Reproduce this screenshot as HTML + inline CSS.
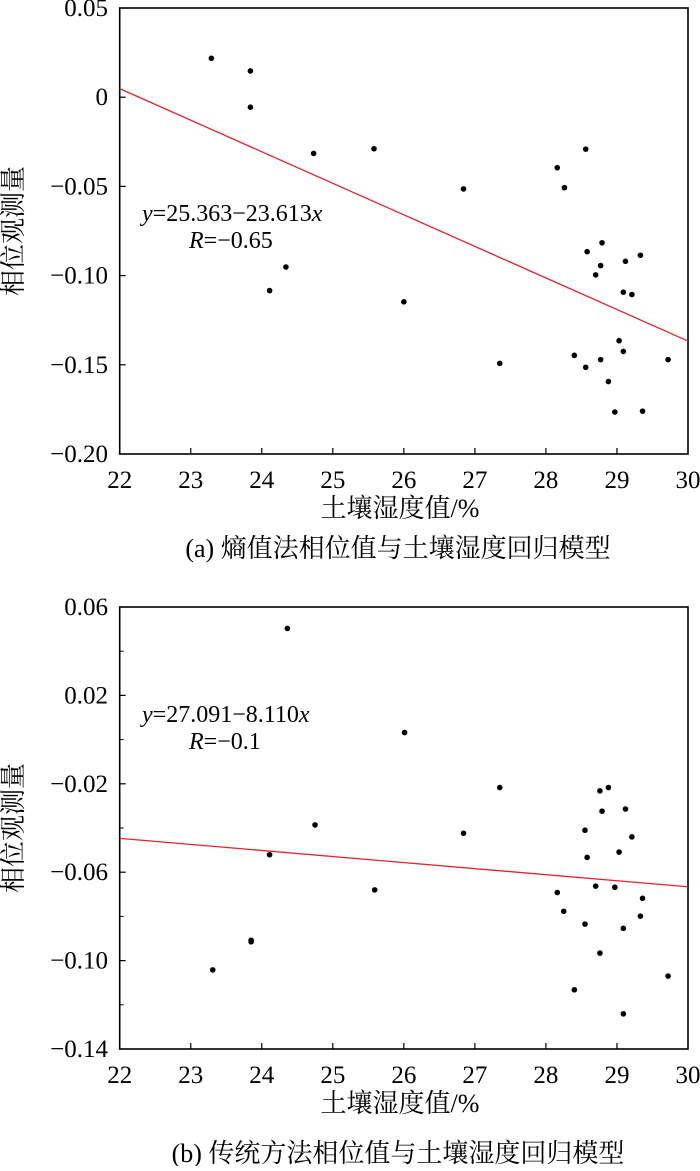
<!DOCTYPE html>
<html><head><meta charset="utf-8"><style>
html,body{margin:0;padding:0;background:#fff;}
body{width:700px;height:1166px;overflow:hidden;}
svg text{font-family:"Liberation Serif","Noto Serif CJK SC",serif !important;fill:#000;}
</style></head><body>
<svg id="chart" width="700" height="1166" viewBox="0 0 700 1166" font-family="'Liberation Serif','Noto Serif CJK SC',serif"></svg>
<script>
// Panel (a)
const xTicksA = [22,23,24,25,26,27,28,29,30];
const yTicksA = [0.05,0,-0.05,-0.10,-0.15,-0.20];
const yTickLabelsA = ["0.05","0","\u22120.05","\u22120.10","\u22120.15","\u22120.20"];
const xValsA = [23.29,23.84,23.84,24.73,25.58,24.34,24.11,26.0,26.84,27.35,28.16,28.26,28.56,28.58,28.79,28.77,28.70,29.12,29.33,29.09,29.21,29.03,29.09,28.40,28.77,28.56,29.72,28.88,28.97,29.36];
const yValsA = [0.0218,0.0147,-0.0056,-0.0315,-0.0289,-0.0952,-0.1084,-0.1147,-0.0514,-0.1492,-0.0395,-0.0507,-0.0291,-0.0866,-0.0816,-0.0944,-0.0996,-0.0920,-0.0886,-0.1093,-0.1106,-0.1365,-0.1425,-0.1447,-0.1471,-0.1514,-0.1471,-0.1594,-0.1765,-0.1760];
const fitA = [0.0048,-0.1367]; // fitted y at x=22 and x=30
// Panel (b)
const xTicksB = [22,23,24,25,26,27,28,29,30];
const yTicksB = [0.06,0.02,-0.02,-0.06,-0.10,-0.14];
const yTickLabelsB = ["0.06","0.02","\u22120.02","\u22120.06","\u22120.10","\u22120.14"];
const yMinorB = [0.04,0,-0.04,-0.08,-0.12];
const xValsB = [24.36,26.01,27.35,24.75,26.84,24.11,25.59,28.76,28.88,28.79,29.12,28.55,29.21,29.03,28.58,28.70,28.97,28.16,29.36,28.25,29.33,28.55,29.09,23.85,23.85,23.31,28.76,29.72,28.40,29.09];
const yValsB = [0.0503,0.0032,-0.0217,-0.0386,-0.0424,-0.0521,-0.0680,-0.0232,-0.0217,-0.0324,-0.0314,-0.0410,-0.0440,-0.0509,-0.0533,-0.0663,-0.0668,-0.0692,-0.0718,-0.0777,-0.0799,-0.0835,-0.0854,-0.0908,-0.0915,-0.1042,-0.0966,-0.1070,-0.1132,-0.1241];
const fitB = [-0.0447,-0.0666];

const NS="http://www.w3.org/2000/svg";
const svg=document.getElementById('chart');
function mk(tag,attrs,parent){const e=document.createElementNS(NS,tag);for(const k in attrs)e.setAttribute(k,attrs[k]);(parent||svg).appendChild(e);return e;}

function panel(cfg){
  const g=mk('g',{});
  
  
  const L=119.7,R=688,T=cfg.top,B=cfg.bottom;
  const sx=v=>L+(v-22)/(30-22)*(R-L);
  const sy=v=>T+(cfg.ymax-v)/(cfg.ymax-cfg.ymin)*(B-T);
  const frame=mk('rect',{x:L,y:T,width:R-L,height:B-T,fill:'none',stroke:'#000','stroke-width':1.6},g);
  
  
  cfg.xt.forEach(v=>{
    const x=sx(v);
    if(v>22&&v<30){const t=mk('line',{x1:x,x2:x,y1:B,y2:B-6,stroke:'#000','stroke-width':1.2},g);
      
      }
    const tx=mk('text',{x:x,y:B+34,'text-anchor':'middle','font-size':25},g);
    tx.textContent=v;
    
    
  });
  cfg.yt.forEach((v,i)=>{
    const y=sy(v);
    if(i>0&&i<cfg.yt.length-1){const t=mk('line',{x1:L,x2:L+6,y1:y,y2:y,stroke:'#000','stroke-width':1.2},g);
      
      }
    const tx=mk('text',{x:108,y:y+8,'text-anchor':'end','font-size':25},g);
    tx.textContent=cfg.ytl[i];
    
    
  });
  (cfg.ym||[]).forEach(v=>{
    const y=sy(v);
    const t=mk('line',{x1:L,x2:L+4,y1:y,y2:y,stroke:'#000','stroke-width':1},g);
    
    
  });
  const ln=mk('line',{x1:sx(22),y1:sy(cfg.fit[0]),x2:sx(30),y2:sy(cfg.fit[1]),stroke:'#e8202a','stroke-width':1.3},g);
  
  
  cfg.xs.forEach((xv,i)=>{
    const c=mk('circle',{cx:sx(xv),cy:sy(cfg.ys[i]),r:2.8,fill:'#000'},g);
    
    
  });
  const eq=mk('text',{x:142,y:cfg.eqY,'font-size':24},g);
  eq.innerHTML='<tspan font-style="italic">y</tspan>='+cfg.eq1+'<tspan font-style="italic">x</tspan>';
  
  
  const rr=mk('text',{x:189,y:cfg.eqY+27,'font-size':24},g);
  rr.innerHTML='<tspan font-style="italic">R</tspan>='+cfg.r;
  
  
  const yl=mk('text',{x:0,y:0,'font-size':26,'text-anchor':'middle',transform:`translate(22,${(T+B)/2}) rotate(-90)`},g);
  yl.textContent='相位观测量';
  
  
  const xl=mk('text',{x:400,y:B+63,'font-size':26,'text-anchor':'middle'},g);
  xl.textContent='土壤湿度值/%';
  
  
  const cap=mk('text',{x:398,y:cfg.capY,'font-size':26,'text-anchor':'middle'},g);
  cap.textContent=cfg.cap;
  
  
}
panel({name:'panel-a',top:8,bottom:454,ymax:0.05,ymin:-0.20,xt:xTicksA,yt:yTicksA,ytl:yTickLabelsA,xs:xValsA,ys:yValsA,fit:fitA,eq1:'25.363\u221223.613',r:'\u22120.65',eqY:221,cap:'(a) 熵值法相位值与土壤湿度回归模型',capY:557});
panel({name:'panel-b',top:607,bottom:1049,ymax:0.06,ymin:-0.14,xt:xTicksB,yt:yTicksB,ytl:yTickLabelsB,ym:yMinorB,xs:xValsB,ys:yValsB,fit:fitB,eq1:'27.091\u22128.110',r:'\u22120.1',eqY:722,cap:'(b) 传统方法相位值与土壤湿度回归模型',capY:1162});
</script>
</body></html>
